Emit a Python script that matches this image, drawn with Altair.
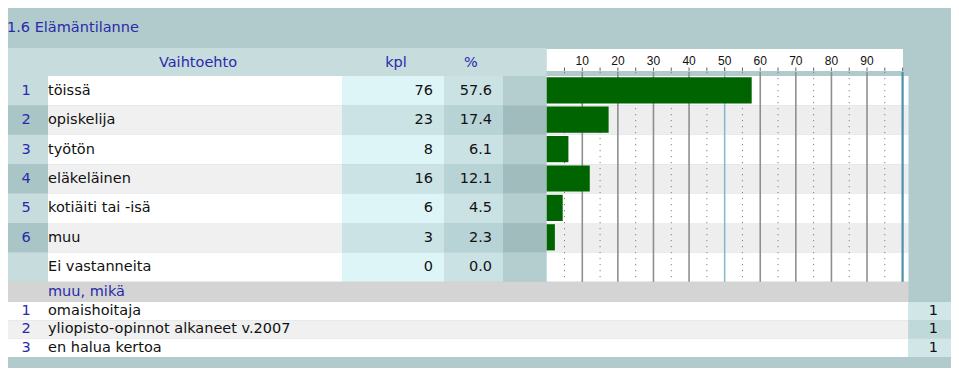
import altair as alt
import pandas as pd

# ---------------- data ----------------
title_text = "1.6 Elämäntilanne"
col_headers = ["Vaihtoehto", "kpl", "%"]
option_numbers = ["1", "2", "3", "4", "5", "6", ""]
option_labels = ["töissä", "opiskelija", "työtön", "eläkeläinen",
                 "kotiäiti tai -isä", "muu", "Ei vastanneita"]
counts = [76, 23, 8, 16, 6, 3, 0]
percents = [57.6, 17.4, 6.1, 12.1, 4.5, 2.3, 0.0]
other_header = "muu, mikä"
other_numbers = ["1", "2", "3"]
other_answers = ["omaishoitaja", "yliopisto-opinnot alkaneet v.2007", "en halua kertoa"]
other_counts = [1, 1, 1]
tick_labels = [10, 20, 30, 40, 50, 60, 70, 80, 90]

# ---------------- layout (page pixels) ----------------
W, H = 943, 360
L, R, TOP, BOTTOM = 5, 952, 5, 373
HDR_Y0, HDR_Y1 = 48, 76
ROW_H = 29.4
N = len(option_labels)
ROWS_END = HDR_Y1 + N * ROW_H
GRAY_END = 302
SUB_H = 18.3
C_IDX, C_LBL, C_KPL, C_PCT, C_GAP, C_CH, C_CHE = 5, 48, 342, 444, 503, 546.7, 908.5
X100 = 902.6

BLUE = "#2a2aaa"
FRAME = "#b1cbcc"
FONT = "DejaVu Sans"
FS = 14.5

px = alt.Scale(domain=[8, 8 + W], range=[0, W], zero=False, nice=False)
py = alt.Scale(domain=[8, 8 + H], range=[0, H], zero=False, nice=False)
pct_scale = alt.Scale(domain=[0, 100], range=[C_CH - 8, X100 - 8], zero=False, nice=False)

# ---------------- background cells ----------------
cells = []
def cell(x, x2, y, y2, fill):
    cells.append(dict(x=x, x2=x2, y=y, y2=y2, fill=fill))

cell(L, R, TOP, BOTTOM, FRAME)
cell(L, C_CH, HDR_Y0, HDR_Y1, "#c6dcdd")
cell(C_CH, 903, 49, 71, "#ffffff")
cols = [(C_IDX, C_LBL, ("#c6dcdd", "#a9c5c6")),
        (C_LBL, C_KPL, ("#ffffff", "#f0f0f0")),
        (C_KPL, C_PCT, ("#def5f7", "#cbe3e5")),
        (C_PCT, C_GAP, ("#cbe2e4", "#b8d3d5")),
        (C_GAP, C_CH, ("#b4cecf", "#a0bcbd")),
        (C_CH, C_CHE, ("#ffffff", "#eeeeee"))]
for i in range(N):
    y0 = HDR_Y1 + i * ROW_H
    for x0, x1, fills in cols:
        cell(x0, x1, y0, y0 + ROW_H, fills[i % 2])
cell(L, C_CHE, ROWS_END, GRAY_END, "#d4d4d4")
for j in range(len(other_answers)):
    y0 = GRAY_END + j * SUB_H
    cell(L, C_CHE, y0, y0 + SUB_H, ("#ffffff", "#f0f0f0")[j % 2])
    cell(C_CHE, R, y0, y0 + SUB_H, ("#d0e6e7", "#bfd8d9")[j % 2])
cells_df = pd.DataFrame(cells)

bg = alt.Chart(cells_df).mark_rect().encode(
    x=alt.X("x:Q", scale=px, axis=None), x2="x2:Q",
    y=alt.Y("y:Q", scale=py, axis=None), y2="y2:Q",
    color=alt.Color("fill:N", scale=None))

# ---------------- main table ----------------
main = pd.DataFrame(dict(num=option_numbers, label=option_labels,
                         kpl=counts, pct=percents, row=list(range(N))))
main["yc"] = HDR_Y1 + (main["row"] + 0.5) * ROW_H
main["b0"] = HDR_Y1 + main["row"] * ROW_H + 1.2
main["b1"] = HDR_Y1 + main["row"] * ROW_H + 27.4

def txt(df, xval, field, align, color="#111111", size=FS, fmt=None, yfield="yc"):
    t = alt.Text(field, format=fmt) if fmt else alt.Text(field)
    return alt.Chart(df).mark_text(align=align, baseline="middle", font=FONT,
                                   fontSize=size, color=color).encode(
        x=alt.X("xx:Q", scale=px, axis=None),
        y=alt.Y(f"{yfield}:Q", scale=py, axis=None),
        text=t).transform_calculate(xx=str(xval))

t_num = txt(main, 26, "num:N", "center", BLUE)
t_lbl = txt(main, C_LBL, "label:N", "left")
t_kpl = txt(main, 433, "kpl:Q", "right")
t_pct = txt(main, 492, "pct:Q", "right", fmt=".1f")

heads = pd.DataFrame(dict(text=[title_text] + col_headers,
                          x=[7, 198, 396, 471], y=[28, 63, 63, 63],
                          align=["left", "center", "center", "center"]))
t_title = alt.Chart(heads.iloc[:1]).mark_text(align="left", baseline="middle", font=FONT,
                                               fontSize=FS, color=BLUE).encode(
    x=alt.X("x:Q", scale=px, axis=None), y=alt.Y("y:Q", scale=py, axis=None), text="text:N")
t_heads = alt.Chart(heads.iloc[1:]).mark_text(align="center", baseline="middle", font=FONT,
                                               fontSize=FS, color=BLUE).encode(
    x=alt.X("x:Q", scale=px, axis=None), y=alt.Y("y:Q", scale=py, axis=None), text="text:N")

# ---------------- bar chart ----------------
minor = [t - 5 for t in tick_labels] + [95]
grid_solid = pd.DataFrame(dict(v=[t for t in tick_labels if t != 50]))
grid_dot = pd.DataFrame(dict(v=minor))
grid_blue = pd.DataFrame(dict(v=[50, 100], c=["#86b6cc", "#4f8fae"], w=[1.5, 2.2]))
ticks = pd.DataFrame(dict(v=minor + tick_labels + [50, 100]))

def vrule(df, y0, y1, **kw):
    return alt.Chart(df).mark_rule(**kw).encode(
        x=alt.X("v:Q", scale=pct_scale, axis=None),
        y=alt.Y("y0:Q", scale=py, axis=None), y2="y1:Q").transform_calculate(
        y0=str(y0), y1=str(y1))

g_dot = vrule(grid_dot, 72, ROWS_END, color="#808080", strokeWidth=1, strokeDash=[1.2, 4.8])
g_solid = vrule(grid_solid, 72, ROWS_END, color="#8f8f8f", strokeWidth=1.6)
g_blue = alt.Chart(grid_blue).mark_rule().encode(
    x=alt.X("v:Q", scale=pct_scale, axis=None),
    y=alt.Y("y0:Q", scale=py, axis=None), y2="y1:Q",
    color=alt.Color("c:N", scale=None),
    strokeWidth=alt.StrokeWidth("w:Q", scale=None)).transform_calculate(
    y0="72", y1=str(ROWS_END))
g_ticks = vrule(ticks, 67.5, 71, color="#666666", strokeWidth=1)

tick_df = pd.DataFrame(dict(v=tick_labels))
t_ticks = alt.Chart(tick_df).mark_text(align="center", baseline="middle",
                                       font="Liberation Sans", fontSize=12,
                                       color="#111111").encode(
    x=alt.X("v:Q", scale=pct_scale, axis=None),
    y=alt.Y("yy:Q", scale=py, axis=None),
    text=alt.Text("v:Q")).transform_calculate(yy="60.5")

bars = alt.Chart(main).mark_rect(color="#006400").encode(
    x=alt.X("zero:Q", scale=pct_scale, axis=None), x2="pct:Q",
    y=alt.Y("b0:Q", scale=py, axis=None), y2="b1:Q").transform_calculate(zero="0")

# ---------------- other answers ----------------
other = pd.DataFrame(dict(num=other_numbers, label=other_answers, cnt=other_counts,
                          row=list(range(len(other_answers)))))
other["yc"] = GRAY_END + (other["row"] + 0.5) * SUB_H
o_num = txt(other, 26, "num:N", "center", BLUE)
o_lbl = txt(other, C_LBL, "label:N", "left")
o_cnt = txt(other, 938, "cnt:Q", "right")
o_head = alt.Chart(pd.DataFrame(dict(text=[other_header], yc=[(ROWS_END + GRAY_END) / 2]))).mark_text(
    align="left", baseline="middle", font=FONT, fontSize=FS, color=BLUE).encode(
    x=alt.X("xx:Q", scale=px, axis=None), y=alt.Y("yc:Q", scale=py, axis=None),
    text="text:N").transform_calculate(xx=str(C_LBL))

chart = alt.layer(
    bg, g_dot, g_solid, g_blue, g_ticks, bars, t_ticks,
    t_title, t_heads, t_num, t_lbl, t_kpl, t_pct,
    o_head, o_num, o_lbl, o_cnt
).resolve_scale(x="independent").properties(
    width=W, height=H, autosize=alt.AutoSizeParams(type="none"), padding=0
).configure_view(stroke=None).configure(background="white")

chart.save("out.html", embed_options={"renderer": "svg", "actions": False})
